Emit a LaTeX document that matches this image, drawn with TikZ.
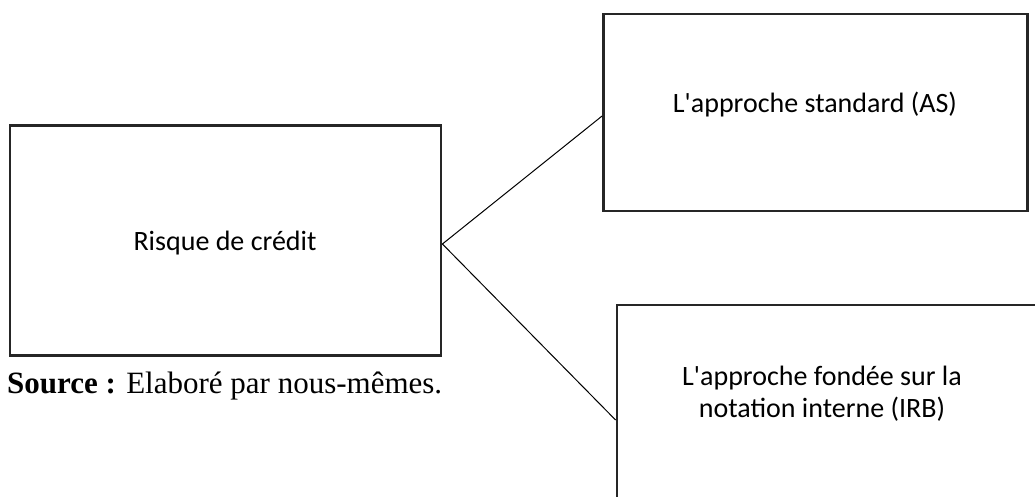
\documentclass[tikz,border=0pt]{standalone}
\usepackage{fontspec}
\setmainfont{Carlito}
\newfontfamily\srcfont{Liberation Serif}
\begin{document}
\begin{tikzpicture}[x=1pt,y=-1pt,
  boxstyle/.style={draw=black!85,line width=2.8pt,rectangle,inner sep=0pt},
  lbl/.style={font=\fontsize{28}{32}\selectfont,align=center,inner sep=0pt},
  conn/.style={draw=black,line width=1pt}]
\useasboundingbox (0,0) rectangle (1035,497);
\clip (0,0) rectangle (1035,497);
\fill[white] (0,0) rectangle (1035,497);
% boxes
\node[boxstyle,minimum width=431pt,minimum height=230pt] (L) at (225.5,240.5) {};
\node[boxstyle,minimum width=424pt,minimum height=197pt] (A) at (815.5,112.5) {};
\node[boxstyle,minimum width=430pt,minimum height=230pt] (B) at (832,420) {};
% texts
\node[lbl] (Ltxt) at (225,243) {Risque de crédit};
\node[lbl] (Atxt) at (815,105) {L\textquotesingle approche standard (AS)};
\node[lbl] (Btxt) at (822,394) {L\textquotesingle approche fondée sur la\\notation interne (IRB)};
\node[anchor=west,inner sep=0pt,font=\srcfont\fontsize{31}{36}\selectfont] (src) at (7,386) {\textbf{Source :} Elaboré par nous-mêmes.};
% connectors
\coordinate (apex) at ([yshift=-3.5pt]L.east);
\draw[conn] (apex) -- ([yshift=-3.5pt]A.west);
\draw[conn] (apex) -- (B.west);
\end{tikzpicture}
\end{document}
